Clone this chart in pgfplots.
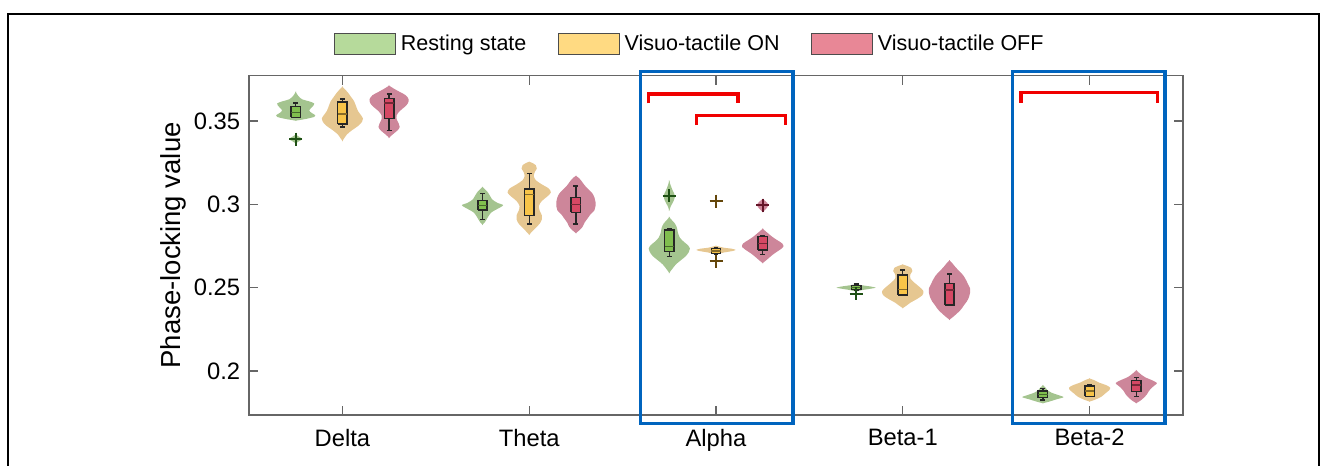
\documentclass[border=0pt]{standalone}
\usepackage{fontspec}
\setmainfont{Liberation Sans}
\usepackage{pgfplots}
\usepackage{pgfplotstable}
\pgfplotsset{compat=1.18}

\definecolor{gV}{RGB}{164,196,143}
\definecolor{yV}{RGB}{230,199,145}
\definecolor{rV}{RGB}{205,134,154}
\definecolor{gB}{RGB}{128,190,78}
\definecolor{yB}{RGB}{248,196,72}
\definecolor{rB}{RGB}{214,72,100}
\definecolor{gO}{RGB}{30,80,20}
\definecolor{yO}{RGB}{100,70,10}
\definecolor{rO}{RGB}{100,20,40}
\definecolor{gL}{RGB}{182,218,155}
\definecolor{yL}{RGB}{255,218,130}
\definecolor{rL}{RGB}{232,135,150}
\definecolor{bluebox}{RGB}{0,100,190}
\definecolor{redbr}{RGB}{240,0,0}

% violin half-profiles: y value, half-width in pixels (187 px = 1 x unit)
\pgfplotstableread{
y w
0.3502 0
0.3512 10
0.3525 19
0.3535 20
0.3550 16
0.3565 14
0.3585 17
0.3605 19
0.3618 14
0.3630 7
0.3650 3
0.3678 0
}\VdeltaG
\pgfplotstableread{
y w
0.3365 0
0.3380 4
0.3392 7
0.3405 4
0.3420 0
}\VdeltaGo
\pgfplotstableread{
y w
0.3378 0
0.3395 2
0.3420 5
0.3445 10
0.3470 16
0.3495 20
0.3515 21
0.3535 19
0.3560 16
0.3590 14
0.3620 12
0.3645 9
0.3670 6
0.3690 3
0.3708 0
}\VdeltaY
\pgfplotstableread{
y w
0.3398 0
0.3420 4
0.3445 9
0.3465 11
0.3485 10
0.3510 8
0.3535 8
0.3560 11
0.3585 16
0.3605 19
0.3630 20
0.3655 17
0.3675 11
0.3695 5
0.3714 0
}\VdeltaR
\pgfplotstableread{
y w
0.2876 0
0.2895 3
0.2915 5
0.2935 7
0.2955 10
0.2975 16
0.2995 21
0.3010 15
0.3030 10
0.3050 8
0.3070 6
0.3090 3
0.3106 0
}\VthetaG
\pgfplotstableread{
y w
0.2816 0
0.2835 3
0.2860 7
0.2885 11
0.2910 13
0.2935 13
0.2960 11
0.2990 10
0.3020 13
0.3045 18
0.3070 22
0.3095 20
0.3120 13
0.3145 7
0.3170 5
0.3195 6
0.3215 8
0.3235 7
0.3250 3
0.3256 0
}\VthetaY
\pgfplotstableread{
y w
0.2826 0
0.2845 4
0.2865 7
0.2890 9
0.2915 12
0.2940 15
0.2965 19
0.2990 20
0.3015 20
0.3040 19
0.3065 17
0.3090 13
0.3115 9
0.3140 6
0.3160 3
0.3172 0
}\VthetaR
\pgfplotstableread{
y w
0.2586 0
0.2610 3
0.2640 7
0.2665 12
0.2690 17
0.2715 20
0.2735 21
0.2755 19
0.2775 15
0.2800 11
0.2830 9
0.2860 8
0.2885 6
0.2905 3
0.2926 0
}\ValphaG
\pgfplotstableread{
y w
0.2960 0
0.2990 2
0.3025 5
0.3052 6
0.3080 4
0.3110 2
0.3146 0
}\ValphaGo
\pgfplotstableread{
y w
0.2696 0
0.2705 4
0.2712 9
0.2720 17
0.2727 20
0.2734 16
0.2740 8
0.2746 4
0.2752 0
}\ValphaY
\pgfplotstableread{
y w
0.2646 0
0.2665 4
0.2686 8
0.2705 12
0.2725 17
0.2745 21
0.2765 20
0.2785 15
0.2805 10
0.2825 6
0.2840 3
0.2856 0
}\ValphaR
\pgfplotstableread{
y w
0.2952 0
0.2975 4
0.2996 6
0.3015 4
0.3034 0
}\ValphaRo
\pgfplotstableread{
y w
0.2475 0
0.2485 6
0.2493 14
0.2500 20
0.2507 15
0.2514 7
0.2522 0
}\VbetaAG
\pgfplotstableread{
y w
0.2376 0
0.2392 4
0.2410 8
0.2430 14
0.2455 20
0.2480 21
0.2505 17
0.2530 12
0.2555 8
0.2580 8
0.2600 10
0.2618 9
0.2630 5
0.2640 0
}\VbetaAY
\pgfplotstableread{
y w
0.2306 0
0.2325 4
0.2346 8
0.2370 12
0.2396 15
0.2420 18
0.2446 20
0.2470 21
0.2495 21
0.2520 19
0.2545 17
0.2575 14
0.2600 10
0.2626 6
0.2648 3
0.2666 0
}\VbetaAR
\pgfplotstableread{
y w
0.1806 0
0.1815 6
0.1830 14
0.1843 21
0.1855 16
0.1870 9
0.1885 5
0.1900 3
0.1916 0
}\VbetaBG
\pgfplotstableread{
y w
0.1816 0
0.1828 6
0.1845 12
0.1865 16
0.1885 20
0.1900 21
0.1915 17
0.1930 10
0.1945 5
0.1956 0
}\VbetaBY
\pgfplotstableread{
y w
0.1806 0
0.1820 4
0.1840 8
0.1860 11
0.1880 13
0.1900 16
0.1915 19
0.1928 21
0.1945 16
0.1960 10
0.1975 6
0.1990 3
0.2006 0
}\VbetaBR

\newcommand{\violin}[3]{%
  \addplot[forget plot, draw=none, fill=#2, smooth, tension=0.5]
    table[x expr={#1-0.002+\thisrow{w}/187}, y=y] {#3};
  \addplot[forget plot, draw=none, fill=#2, smooth, tension=0.5]
    table[x expr={#1+0.002-\thisrow{w}/187}, y=y] {#3};
}
% \myboxplot{pos}{fill}{outlier colour}{lower whisker}{q1}{median}{q3}{upper whisker}
\newcommand{\myboxplot}[8]{%
  \pgfmathsetmacro\xl{#1-0.025}\pgfmathsetmacro\xr{#1+0.025}%
  \pgfmathsetmacro\wl{#1-0.013}\pgfmathsetmacro\wr{#1+0.013}%
  \addplot[forget plot, draw=black!85, line width=0.5pt] coordinates {(#1,#4) (#1,#5)};
  \addplot[forget plot, draw=black!85, line width=0.5pt] coordinates {(#1,#7) (#1,#8)};
  \addplot[forget plot, draw=black!85, line width=0.5pt] coordinates {(\wl,#4) (\wr,#4)};
  \addplot[forget plot, draw=black!85, line width=0.5pt] coordinates {(\wl,#8) (\wr,#8)};
  \addplot[forget plot, draw=black!85, fill=#2, line width=0.6pt]
    coordinates {(\xl,#5) (\xr,#5) (\xr,#7) (\xl,#7) (\xl,#5)};
  \addplot[forget plot, draw=#2!55!black, line width=0.5pt] coordinates {(\xl,#6) (\xr,#6)};
}
\newcommand{\outl}[2]{%
  \addplot[forget plot, only marks, mark=+, mark size=2.6pt, mark options={draw=#1, line width=0.8pt}]
    coordinates {#2};
}

\begin{document}
\begin{tikzpicture}
\useasboundingbox (0,0) rectangle (530pt,186.4pt);
\begin{axis}[
  at={(99.6pt,20.4pt)}, anchor=south west,
  scale only axis, width=373.6pt, height=135.7pt,
  xmin=0.5, xmax=5.5, ymin=0.1736, ymax=0.3772,
  xtick={1,2,3,4,5}, xticklabels={Delta,Theta,Alpha,Beta-1,Beta-2},
  ytick={0.2,0.25,0.3,0.35}, yticklabels={0.2,0.25,0.3,0.35},
  tick align=inside, tick pos=both, major tick length=3.6pt,
  axis line style={black!60, line width=0.5pt},
  every tick/.style={black!60, line width=0.5pt},
  tick label style={font=\fontsize{9.5}{11}\selectfont, black},
  xticklabel style={yshift=-2.2pt},
  ylabel={Phase-locking value},
  ylabel style={at={(axis description cs:-0.0814,0.5)}, anchor=center, font=\fontsize{11}{13}\selectfont},
  clip=false,
  legend columns=3,
  legend style={at={(axis description cs:0.4735,1.093)}, anchor=center, draw=none, fill=none,
    font=\fontsize{8.6}{10}\selectfont, /tikz/every even column/.append style={column sep=10.5pt}},
  legend image code/.code={\draw[#1, line width=0.4pt] (0pt,-4.2pt) rectangle (24.4pt,4.2pt);},
]
\addlegendimage{fill=gL, draw=black!70}
\addlegendentry{Resting state}
\addlegendimage{fill=yL, draw=black!70}
\addlegendentry{Visuo-tactile ON}
\addlegendimage{fill=rL, draw=black!70}
\addlegendentry{Visuo-tactile OFF}

% violins
\violin{0.75}{gV}{\VdeltaG}
\violin{0.75}{gV}{\VdeltaGo}
\violin{1.00}{yV}{\VdeltaY}
\violin{1.25}{rV}{\VdeltaR}
\violin{1.75}{gV}{\VthetaG}
\violin{2.00}{yV}{\VthetaY}
\violin{2.25}{rV}{\VthetaR}
\violin{2.75}{gV}{\ValphaG}
\violin{2.75}{gV}{\ValphaGo}
\violin{3.00}{yV}{\ValphaY}
\violin{3.25}{rV}{\ValphaR}
\violin{3.25}{rV}{\ValphaRo}
\violin{3.75}{gV}{\VbetaAG}
\violin{4.00}{yV}{\VbetaAY}
\violin{4.25}{rV}{\VbetaAR}
\violin{4.75}{gV}{\VbetaBG}
\violin{5.00}{yV}{\VbetaBY}
\violin{5.25}{rV}{\VbetaBR}

% boxes
\myboxplot{0.75}{gB}{gO}{0.3520}{0.3522}{0.3552}{0.3588}{0.3608}
\myboxplot{1.00}{yB}{yO}{0.3464}{0.3482}{0.3542}{0.3614}{0.3632}
\myboxplot{1.25}{rB}{rO}{0.3442}{0.3514}{0.3608}{0.3634}{0.3662}
\myboxplot{1.75}{gB}{gO}{0.2910}{0.2966}{0.2992}{0.3022}{0.3066}
\myboxplot{2.00}{yB}{yO}{0.2882}{0.2932}{0.3060}{0.3092}{0.3186}
\myboxplot{2.25}{rB}{rO}{0.2882}{0.2952}{0.3000}{0.3040}{0.3110}
\myboxplot{2.75}{gB}{gO}{0.2686}{0.2716}{0.2746}{0.2846}{0.2856}
\myboxplot{3.00}{yB}{yO}{0.2702}{0.2704}{0.2720}{0.2736}{0.2738}
\myboxplot{3.25}{rB}{rO}{0.2700}{0.2726}{0.2766}{0.2806}{0.2812}
\myboxplot{3.75}{gB}{gO}{0.2485}{0.2490}{0.2500}{0.2512}{0.2522}
\myboxplot{4.00}{yB}{yO}{0.2454}{0.2456}{0.2490}{0.2576}{0.2606}
\myboxplot{4.25}{rB}{rO}{0.2392}{0.2396}{0.2486}{0.2526}{0.2582}
\myboxplot{4.75}{gB}{gO}{0.1826}{0.1840}{0.1860}{0.1880}{0.1896}
\myboxplot{5.00}{yB}{yO}{0.1846}{0.1848}{0.1880}{0.1910}{0.1920}
\myboxplot{5.25}{rB}{rO}{0.1846}{0.1876}{0.1916}{0.1942}{0.1962}

% outliers
\outl{gO}{(0.75,0.3392)}
\outl{gO}{(2.75,0.3052)}
\outl{yO}{(3.00,0.3020) (3.00,0.2660)}
\outl{rO}{(3.25,0.2996)}
\outl{gO}{(3.75,0.2465)}

% highlight boxes and significance brackets
\draw[bluebox, line width=1.3pt] (axis cs:2.597,0.1686) rectangle (axis cs:3.412,0.3796);
\draw[bluebox, line width=1.3pt] (axis cs:4.588,0.1686) rectangle (axis cs:5.403,0.3796);
\draw[redbr, line width=1.3pt] (axis cs:2.640,0.3606) -- (axis cs:2.640,0.3662) -- (axis cs:3.118,0.3662) -- (axis cs:3.118,0.3606);
\draw[redbr, line width=1.3pt] (axis cs:2.895,0.3476) -- (axis cs:2.895,0.3532) -- (axis cs:3.371,0.3532) -- (axis cs:3.371,0.3476);
\draw[redbr, line width=1.3pt] (axis cs:4.633,0.3610) -- (axis cs:4.633,0.3670) -- (axis cs:5.364,0.3670) -- (axis cs:5.364,0.3610);
\end{axis}
\draw[line width=0.8pt] (3.2pt,0) -- (3.2pt,180.8pt) -- (527.6pt,180.8pt) -- (527.6pt,0);
\end{tikzpicture}
\end{document}
